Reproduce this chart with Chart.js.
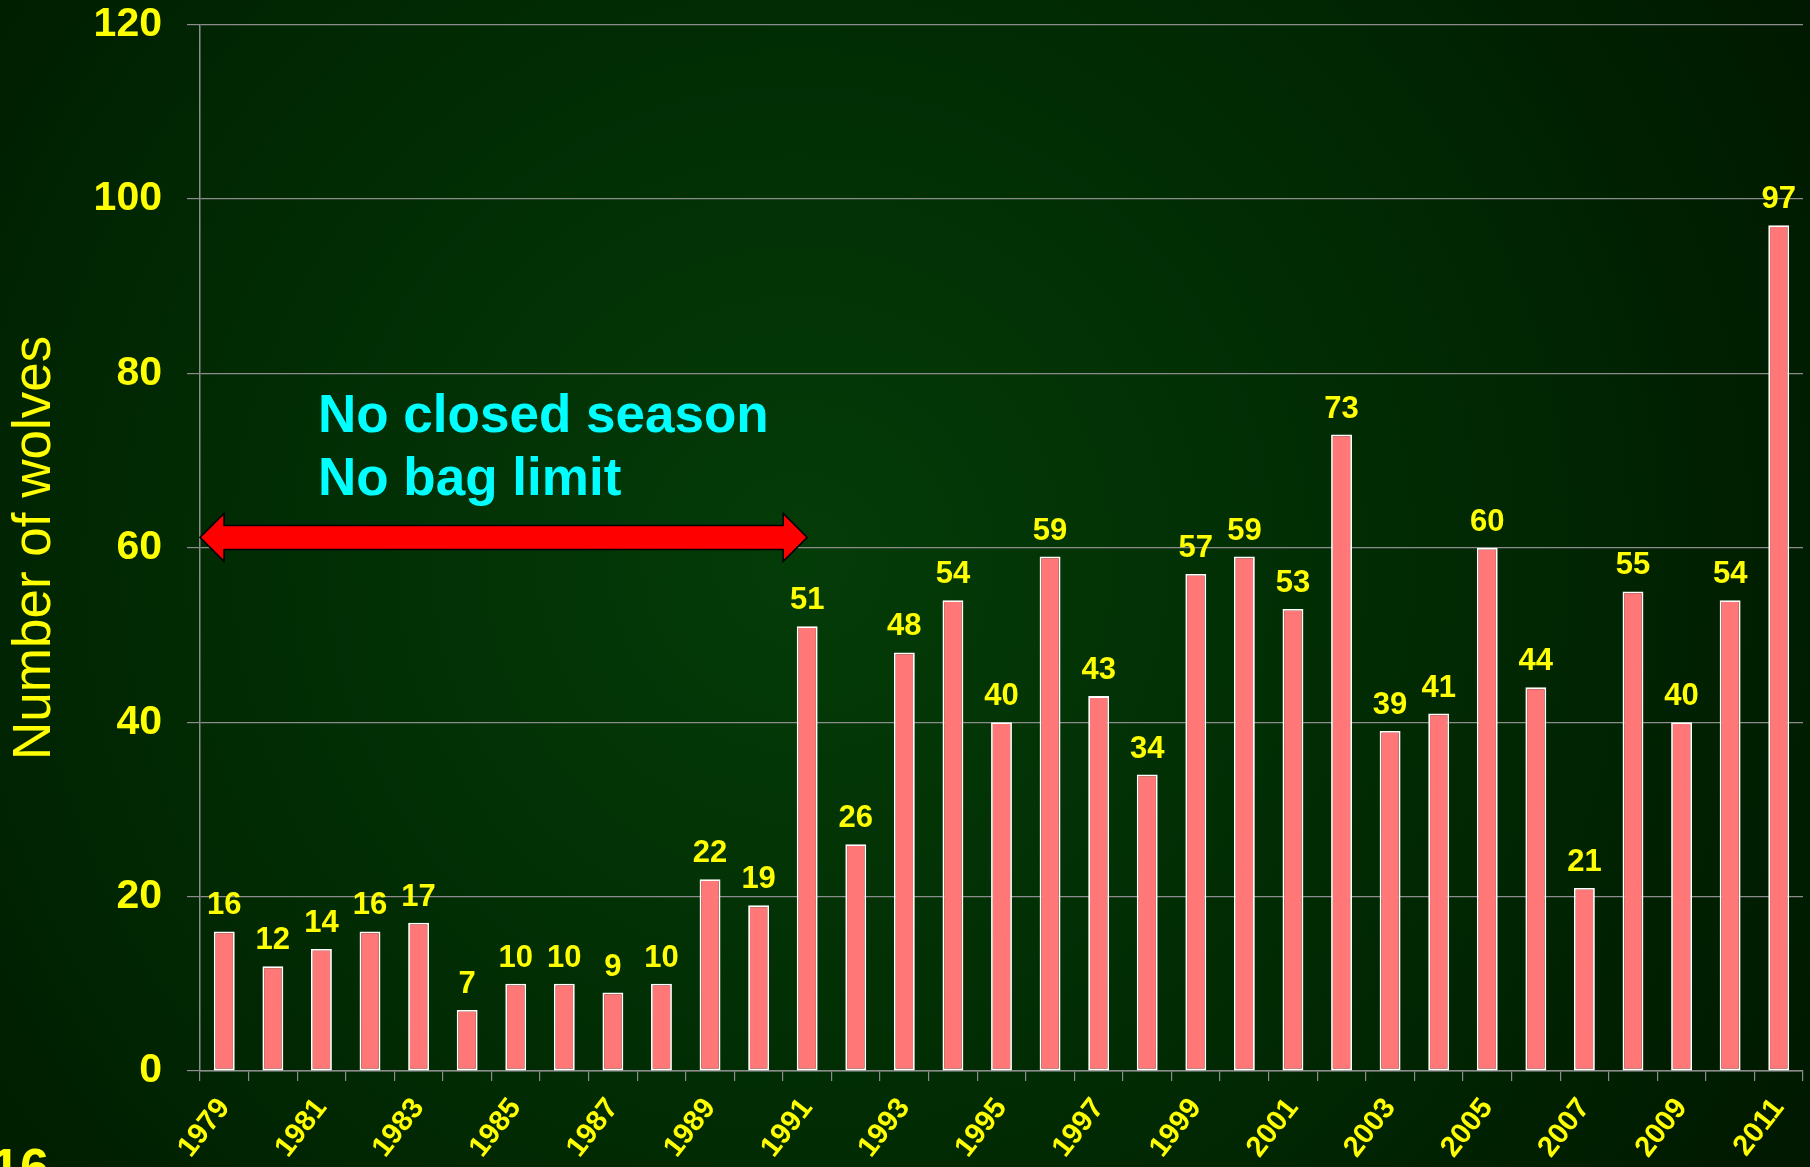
<!DOCTYPE html>
<html>
<head>
<meta charset="utf-8">
<script src="https://cdn.jsdelivr.net/npm/chart.js@4.4.1/dist/chart.umd.min.js"></script>
<style>
  html, body { margin: 0; padding: 0; background: #001a00; overflow: hidden; }
  #chartBox { width: 1810px; height: 1167px; }
</style>
</head>
<body>
<div id="chartBox"><canvas id="wolfChart"></canvas></div>
<script>
const years = ["1979","1980","1981","1982","1983","1984","1985","1986","1987","1988","1989",
  "1990","1991","1992","1993","1994","1995","1996","1997","1998","1999","2000","2001","2002",
  "2003","2004","2005","2006","2007","2008","2009","2010","2011"];
const wolvesTaken = [16,12,14,16,17,7,10,10,9,10,22,19,51,26,48,54,40,59,43,34,57,59,53,73,
  39,41,60,44,21,55,40,54,97];
const yTicks = [0, 20, 40, 60, 80, 100, 120];
const noteLines = ["No closed season", "No bag limit"];
const arrowFrom = "1979";
const arrowTo = "1991";
const pageNumber = "16";

const fontFamily = "'Liberation Sans', Arial, sans-serif";
const yellow = "#ffff00";
const gridGray = "#8c8c8c";

// dark green slide background
const backgroundPlugin = {
  id: "slideBackground",
  beforeDraw(chart) {
    const ctx = chart.ctx;
    const w = chart.width, h = chart.height;
    ctx.save();
    const g = ctx.createRadialGradient(800, 560, 0, 800, 560, 1150);
    g.addColorStop(0, "#043c08");
    g.addColorStop(0.55, "#012a03");
    g.addColorStop(1, "#001900");
    ctx.fillStyle = g;
    ctx.fillRect(0, 0, w, h);
    ctx.restore();
  },
};

// value labels above bars, arrow and text note
const overlayPlugin = {
  id: "overlay",
  afterDatasetsDraw(chart) {
    const ctx = chart.ctx;
    const meta = chart.getDatasetMeta(0);
    const xs = chart.scales.x;
    const ys = chart.scales.y;
    ctx.save();
    ctx.fillStyle = yellow;
    ctx.font = "bold 31px " + fontFamily;
    ctx.textAlign = "center";
    ctx.textBaseline = "alphabetic";
    meta.data.forEach((bar, i) => {
      ctx.fillText(String(wolvesTaken[i]), bar.x, bar.y - 17);
    });

    // double headed arrow
    const x1 = xs.getPixelForValue(years.indexOf(arrowFrom)) - xs.width / years.length / 2;
    const x2 = xs.getPixelForValue(years.indexOf(arrowTo));
    const yc = ys.getPixelForValue(61.2);
    const headLen = 24, headHalf = 24, shaftHalf = 12;
    ctx.beginPath();
    ctx.moveTo(x1, yc);
    ctx.lineTo(x1 + headLen, yc - headHalf);
    ctx.lineTo(x1 + headLen, yc - shaftHalf);
    ctx.lineTo(x2 - headLen, yc - shaftHalf);
    ctx.lineTo(x2 - headLen, yc - headHalf);
    ctx.lineTo(x2, yc);
    ctx.lineTo(x2 - headLen, yc + headHalf);
    ctx.lineTo(x2 - headLen, yc + shaftHalf);
    ctx.lineTo(x1 + headLen, yc + shaftHalf);
    ctx.lineTo(x1 + headLen, yc + headHalf);
    ctx.closePath();
    ctx.fillStyle = "#ff0000";
    ctx.fill();
    ctx.lineWidth = 1.5;
    ctx.strokeStyle = "#000000";
    ctx.stroke();

    ctx.fillStyle = "#00ffff";
    ctx.font = "bold 53px " + fontFamily;
    ctx.textAlign = "left";
    ctx.fillText(noteLines[0], xs.left + 118, ys.getPixelForValue(73.3));
    ctx.fillText(noteLines[1], xs.left + 118, ys.getPixelForValue(66.1));
    ctx.restore();
  },
  afterDraw(chart) {
    const ctx = chart.ctx;
    ctx.save();
    ctx.fillStyle = yellow;
    ctx.font = "bold 52px " + fontFamily;
    ctx.textAlign = "left";
    ctx.fillText(pageNumber, -9, 1185);
    ctx.restore();
  },
};

const data = {
  labels: years,
  datasets: [
    {
      label: "Number of wolves",
      data: wolvesTaken,
      backgroundColor: "#ff7777",
      borderColor: "#ffffff",
      borderWidth: 1.8,
      borderSkipped: false,
      barPercentage: 0.43,
      categoryPercentage: 1.0,
    },
  ],
};

const config = {
  type: "bar",
  data: data,
  plugins: [backgroundPlugin, overlayPlugin],
  options: {
    responsive: true,
    maintainAspectRatio: false,
    animation: false,
    layout: { padding: { top: 0, right: 7, left: 0, bottom: 0 } },
    plugins: {
      legend: { display: false },
      tooltip: { enabled: false },
    },
    scales: {
      x: {
        grid: {
          offset: true,
          drawOnChartArea: false,
          color: gridGray,
          tickLength: 10,
          lineWidth: 1.2,
        },
        border: { color: gridGray, width: 1.5 },
        ticks: {
          autoSkip: false,
          maxRotation: 52,
          minRotation: 52,
          padding: 11,
          color: yellow,
          font: { family: fontFamily, size: 29, weight: "bold" },
          callback: (val, idx) => (idx % 2 === 0 ? years[idx] : ""),
        },
        afterFit: (scale) => {
          scale.height = 96;
          scale.paddingLeft = 0;
          scale.paddingRight = 0;
        },
      },
      y: {
        min: yTicks[0],
        max: yTicks[yTicks.length - 1],
        afterBuildTicks: (scale) => {
          scale.ticks = yTicks.map((v) => ({ value: v }));
        },
        grid: {
          color: gridGray,
          lineWidth: 1.2,
          tickLength: 13,
        },
        border: { color: gridGray, width: 1.5 },
        ticks: {
          padding: 25,
          color: yellow,
          font: { family: fontFamily, size: 41, weight: "bold" },
        },
        title: {
          display: true,
          text: "Number of wolves",
          color: yellow,
          padding: { top: 4, bottom: 0 },
          font: { family: fontFamily, size: 53, weight: "normal" },
        },
        afterFit: (scale) => {
          scale.width = 200;
          scale.paddingTop = 24.7;
          scale.paddingBottom = 24.7;
        },
      },
    },
  },
};

const wolfChart = new Chart(document.getElementById("wolfChart"), config);
</script>
</body>
</html>
